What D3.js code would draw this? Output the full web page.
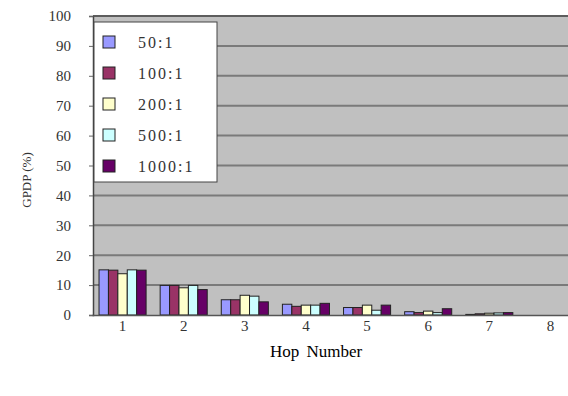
<!DOCTYPE html>
<html>
<head>
<meta charset="utf-8">
<script src="https://cdn.jsdelivr.net/npm/d3@7"></script>
<style>
  html, body { margin: 0; padding: 0; background: #fff; }
  svg { display: block; }
  text { font-family: "Liberation Serif", "DejaVu Serif", serif; }
</style>
</head>
<body>
<svg id="chart" width="568" height="396"></svg>
<script>
// Hop numbers on the x axis
const hops = ["1", "2", "3", "4", "5", "6", "7", "8"];
// Series names (ratios) and their fill colours
const seriesNames = ["50:1", "100:1", "200:1", "500:1", "1000:1"];
const seriesColors = ["#9999ff", "#993366", "#ffffcc", "#ccffff", "#660066"];
// GPDP (%) per hop, one array per series
const gpdp50   = [15.1, 9.9, 5.1, 3.6, 2.5, 1.1, 0.2, 0];
const gpdp100  = [15.0, 9.9, 5.1, 2.9, 2.5, 0.8, 0.4, 0];
const gpdp200  = [13.8, 9.1, 6.6, 3.3, 3.3, 1.3, 0.6, 0];
const gpdp500  = [15.1, 9.9, 6.3, 3.3, 1.6, 0.8, 0.7, 0];
const gpdp1000 = [15.0, 8.5, 4.4, 3.9, 3.3, 2.1, 0.8, 0];
const yTicks = [0, 10, 20, 30, 40, 50, 60, 70, 80, 90, 100];

const allSeries = [gpdp50, gpdp100, gpdp200, gpdp500, gpdp1000];

const svg = d3.select("#chart");
const plot = { left: 93, top: 16, right: 581, bottom: 315 };

const x = d3.scaleBand().domain(hops).range([plot.left - 1, plot.right])
  .paddingInner(0.23).paddingOuter(0.115);
const xs = d3.scaleBand().domain(seriesNames).range([0, x.bandwidth()]);
const y = d3.scaleLinear().domain([0, 100]).range([plot.bottom, plot.top]);

// plot background
svg.append("rect")
  .attr("x", plot.left).attr("y", plot.top)
  .attr("width", plot.right - plot.left).attr("height", plot.bottom - plot.top)
  .attr("fill", "#c0c0c0");

// horizontal gridlines
svg.append("g").selectAll("line").data(yTicks.filter(d => d > 0)).join("line")
  .attr("x1", plot.left).attr("x2", plot.right)
  .attr("y1", d => y(d)).attr("y2", d => y(d))
  .attr("stroke", "#7a7a7a").attr("stroke-width", 2);

// bars
const groups = svg.append("g").selectAll("g").data(hops).join("g")
  .attr("transform", d => `translate(${x(d)},0)`);
groups.selectAll("rect")
  .data((h, i) => seriesNames.map((s, k) => ({ s, k, v: allSeries[k][i] })).filter(d => d.v > 0))
  .join("rect")
  .attr("x", d => xs(d.s))
  .attr("y", d => y(d.v))
  .attr("width", xs.bandwidth())
  .attr("height", d => y(0) - y(d.v))
  .attr("fill", d => seriesColors[d.k])
  .attr("stroke", "#222").attr("stroke-width", 1);

// y axis
const yAxis = svg.append("g")
  .attr("transform", `translate(${plot.left},0)`)
  .call(d3.axisLeft(y).tickValues(yTicks).tickSize(4).tickPadding(18));
yAxis.select(".domain").attr("stroke", "#444").attr("stroke-width", 1.5);
yAxis.selectAll(".tick line").attr("stroke", "#666");
yAxis.selectAll("text").attr("font-size", 15).attr("fill", "#333")
  .style("font-family", "'Liberation Serif', serif");

// x axis
const xAxis = svg.append("g")
  .attr("transform", `translate(0,${plot.bottom})`)
  .call(d3.axisBottom(x).tickSize(0).tickPadding(5));
xAxis.select(".domain").attr("stroke", "#555").attr("stroke-width", 1.5);
xAxis.selectAll("text").attr("font-size", 15).attr("fill", "#333")
  .style("font-family", "'Liberation Serif', serif");

// top border
svg.append("line").attr("x1", plot.left).attr("x2", plot.right)
  .attr("y1", plot.top).attr("y2", plot.top)
  .attr("stroke", "#555").attr("stroke-width", 1.5);

// axis titles
svg.append("text")
  .attr("transform", "translate(31,180) rotate(-90)")
  .attr("text-anchor", "middle").attr("font-size", 13).attr("fill", "#333")
  .text("GPDP (%)");
svg.append("text")
  .attr("x", 316).attr("y", 357)
  .attr("text-anchor", "middle").attr("font-size", 17).attr("fill", "#000")
  .attr("word-spacing", 3)
  .text("Hop Number");

// legend
const legend = svg.append("g").attr("transform", "translate(94,22)");
legend.append("rect").attr("width", 123).attr("height", 160)
  .attr("fill", "#fff").attr("stroke", "#444").attr("stroke-width", 1);
const items = legend.selectAll("g").data(seriesNames).join("g")
  .attr("transform", (d, i) => `translate(0,${20 + i * 31})`);
items.append("rect")
  .attr("x", 9).attr("y", -6).attr("width", 12).attr("height", 12)
  .attr("fill", (d, i) => seriesColors[i]).attr("stroke", "#222");
items.append("text")
  .attr("x", 44).attr("y", 6).attr("font-size", 16).attr("fill", "#333")
  .attr("letter-spacing", 2)
  .text(d => d);
</script>
</body>
</html>
